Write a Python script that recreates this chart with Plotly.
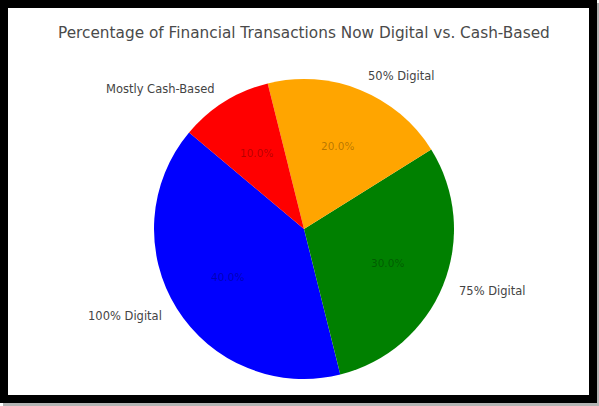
import math
import plotly.graph_objects as go

# Share of transactions by payment mode
labels = ["100% Digital", "75% Digital", "50% Digital", "Mostly Cash-Based"]
values = [40, 30, 20, 10]
colors = ["#0000ff", "#008000", "#ffa500", "#ff0000"]
title = "Percentage of Financial Transactions Now Digital vs. Cash-Based"

W, H = 599, 406
START_ANGLE = 140          # degrees, counter-clockwise from 3 o'clock
CX, CY, R = 304, 229, 150  # pie centre / radius in pixels (from top-left)
FONT = "DejaVu Sans"


def px(x):
    return x / W


def py(y):
    return 1 - y / H


total = sum(values)
# plotly's counter-clockwise pies put the far edge of the first slice at
# `rotation` (degrees clockwise from 12 o'clock)
rotation = 90 - (START_ANGLE + 360 * values[0] / total)

fig = go.Figure(
    go.Pie(
        labels=labels,
        values=values,
        marker=dict(colors=colors, line=dict(width=0)),
        sort=False,
        direction="counterclockwise",
        rotation=rotation,
        textinfo="none",
        hoverinfo="label+percent",
        showlegend=False,
        domain=dict(x=[px(CX - R), px(CX + R)], y=[py(CY + R), py(CY - R)]),
    )
)

# outer labels at 1.1 r, percentages at 0.6 r (slice mid-angles)
annotations = []
acc = 0.0
for lab, v in zip(labels, values):
    mid = math.radians(START_ANGLE + 360 * (acc + v / 2) / total)
    acc += v
    c, s = math.cos(mid), math.sin(mid)
    annotations.append(dict(
        x=px(CX + 1.1 * R * c), y=py(CY - 1.1 * R * s),
        xref="paper", yref="paper", text=lab, showarrow=False,
        xanchor="left" if c > 0 else "right", yanchor="middle",
        font=dict(family=FONT, size=11.5, color="#444444"),
    ))
    annotations.append(dict(
        x=px(CX + 0.6 * R * c), y=py(CY - 0.6 * R * s),
        xref="paper", yref="paper", text=f"{100 * v / total:.1f}%",
        showarrow=False, xanchor="center", yanchor="middle",
        font=dict(family=FONT, size=10.5, color="rgba(0,0,0,0.3)"),
    ))

annotations.append(dict(
    x=px(304), y=py(33), xref="paper", yref="paper", text=title,
    showarrow=False, xanchor="center", yanchor="middle",
    font=dict(family=FONT, size=15.3, color="#4a4a4a"),
))


def rect(x0, y0, x1, y1, color):
    return dict(type="rect", xref="paper", yref="paper",
                x0=px(x0), x1=px(x1), y0=py(y1), y1=py(y0),
                fillcolor=color, line=dict(width=0), layer="above")


shapes = [
    rect(3, 403, 599, 406, "#b4b4b4"),   # drop shadow
    rect(597, 3, 599, 406, "#b4b4b4"),
    rect(0, 0, 8, 403, "#000000"),        # frame
    rect(0, 0, 597, 8, "#000000"),
    rect(589, 0, 597, 403, "#000000"),
    rect(0, 395, 597, 403, "#000000"),
]

fig.update_layout(
    width=W, height=H,
    margin=dict(l=0, r=0, t=0, b=0),
    paper_bgcolor="white", plot_bgcolor="white",
    annotations=annotations, shapes=shapes,
)

fig.write_html("out.html")
